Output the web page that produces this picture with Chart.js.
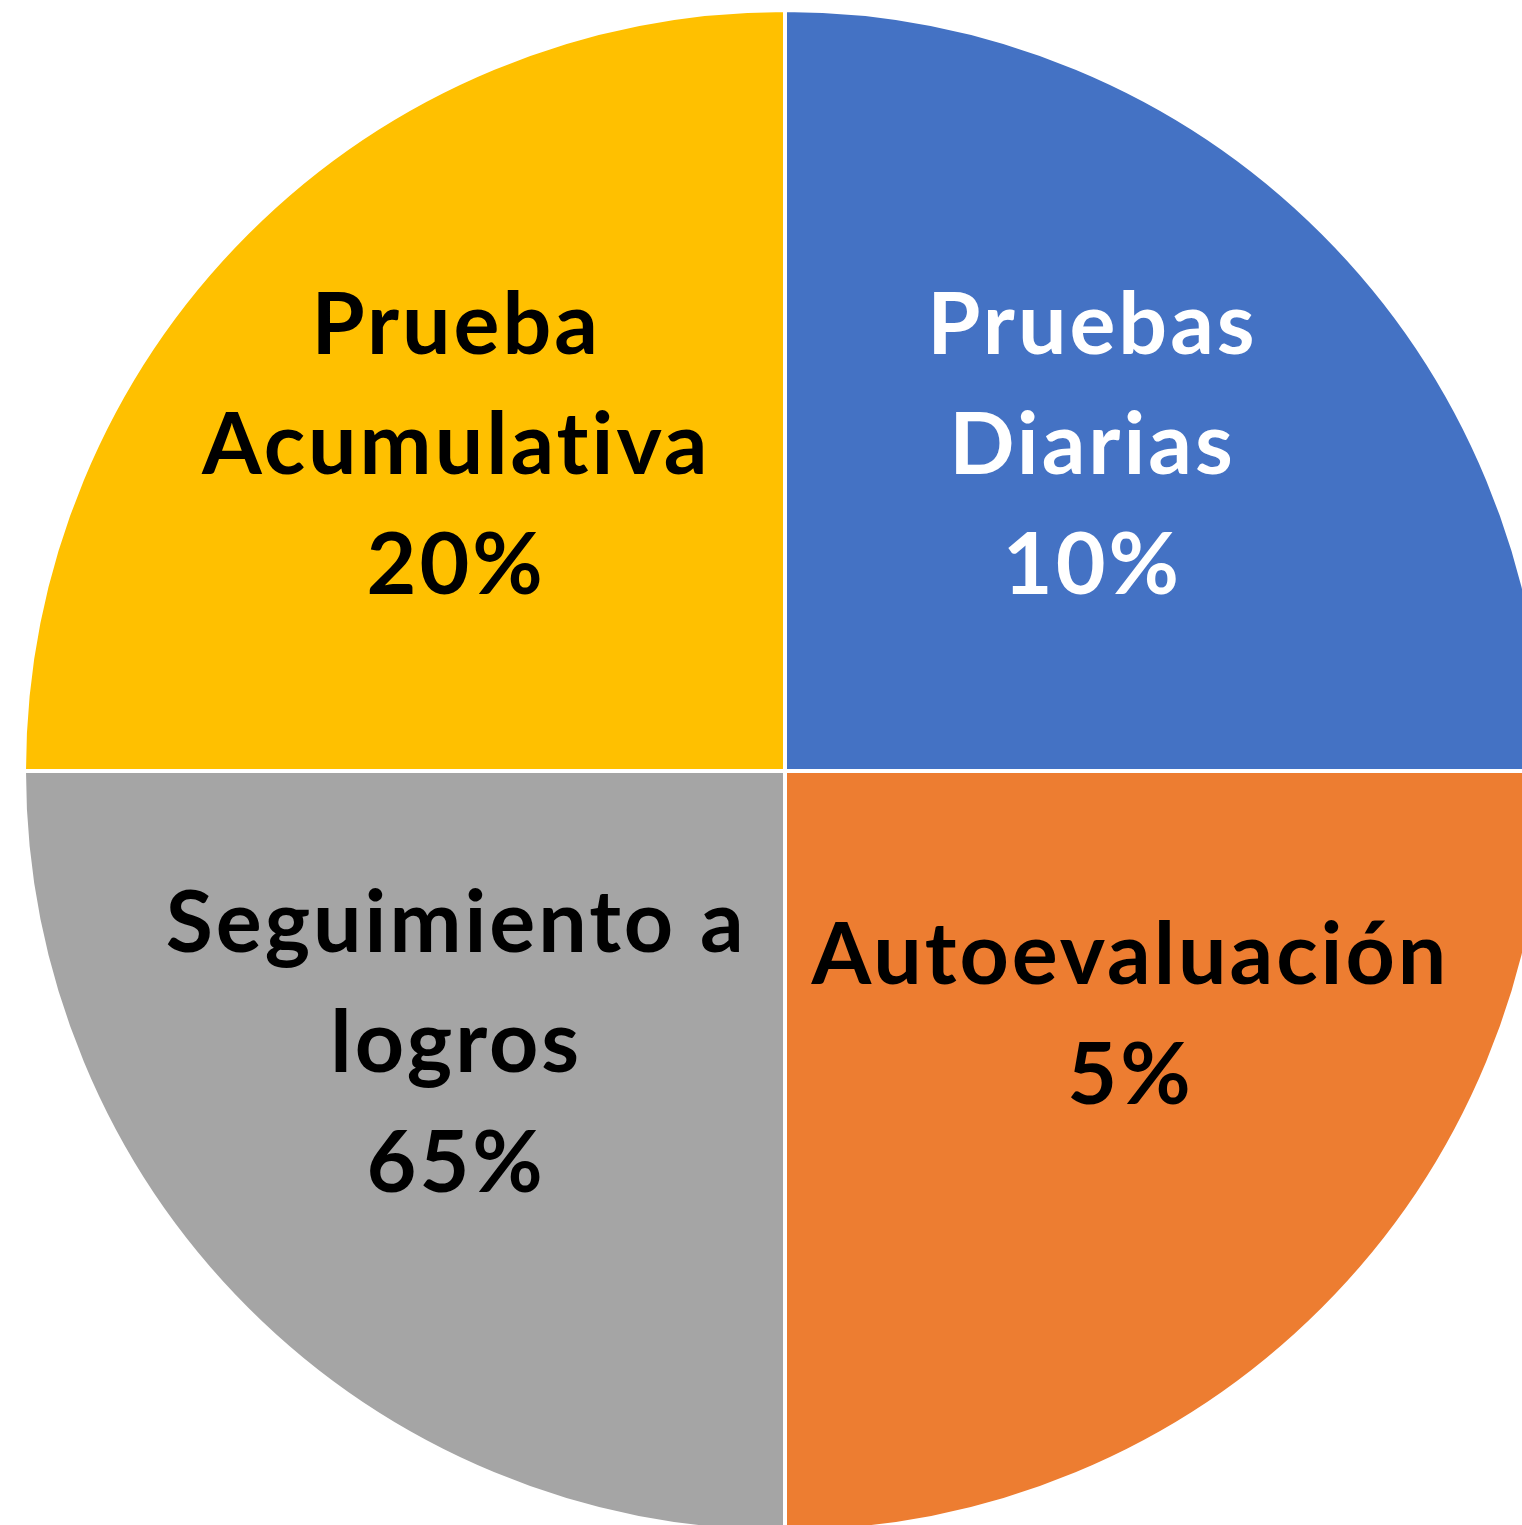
<!DOCTYPE html>
<html>
<head>
<meta charset="utf-8">
<script src="https://cdn.jsdelivr.net/npm/chart.js@4.4.0/dist/chart.umd.min.js"></script>
<style>
  html, body { margin: 0; padding: 0; background: #ffffff; overflow: hidden; }
  #pie { display: block; }
</style>
</head>
<body>
<canvas id="pie" width="1570" height="1542"></canvas>
<script>
// slices as drawn: four equal quarters
const categories = ['Pruebas Diarias', 'Autoevaluación', 'Seguimiento a logros', 'Prueba Acumulativa'];
const sliceValues = [25, 25, 25, 25];
const percentLabels = ['10%', '5%', '65%', '20%'];
const labelLines = [
    ['Pruebas', 'Diarias'],
    ['Autoevaluación'],
    ['Seguimiento a', 'logros'],
    ['Prueba', 'Acumulativa']
];
const sliceColors = ['#4472C4', '#ED7D31', '#A5A5A5', '#FFC000'];
const textColors = ['#ffffff', '#000000', '#000000', '#000000'];

// where each label block sits, as a fraction of the radius from the center
const labelOffsets = [[0.402, -0.427], [0.452, 0.322], [-0.434, 0.359], [-0.434, -0.427]];

const sliceLabelPlugin = {
    id: 'sliceLabelPlugin',
    afterDatasetsDraw(chart) {
        const { ctx } = chart;
        const meta = chart.getDatasetMeta(0);
        ctx.save();
        ctx.font = 'bold 86px Lato, "Open Sans", sans-serif';
        ctx.letterSpacing = '3px';
        ctx.textAlign = 'center';
        ctx.textBaseline = 'middle';
        meta.data.forEach((arc, i) => {
            const lines = labelLines[i].concat([percentLabels[i]]);
            const lineH = 120;
            const cx = arc.x + labelOffsets[i][0] * arc.outerRadius;
            const cy = arc.y + labelOffsets[i][1] * arc.outerRadius;
            const top = cy - (lines.length - 1) * lineH / 2;
            ctx.fillStyle = textColors[i];
            lines.forEach((t, j) => ctx.fillText(t, cx + 1.5, top + j * lineH));
        });
        ctx.restore();
    }
};

const ctx1 = document.querySelector('#pie').getContext('2d');

new Chart(ctx1, {
    type: 'pie',
    data: {
        labels: categories,
        datasets: [{
            data: sliceValues,
            backgroundColor: sliceColors,
            borderColor: '#ffffff',
            borderWidth: 4,
            radius: 761
        }]
    },
    options: {
        responsive: false,
        animation: false,
        layout: { padding: 0 },
        plugins: {
            legend: { display: false },
            tooltip: { enabled: false }
        }
    },
    plugins: [sliceLabelPlugin]
});
</script>
</body>
</html>
